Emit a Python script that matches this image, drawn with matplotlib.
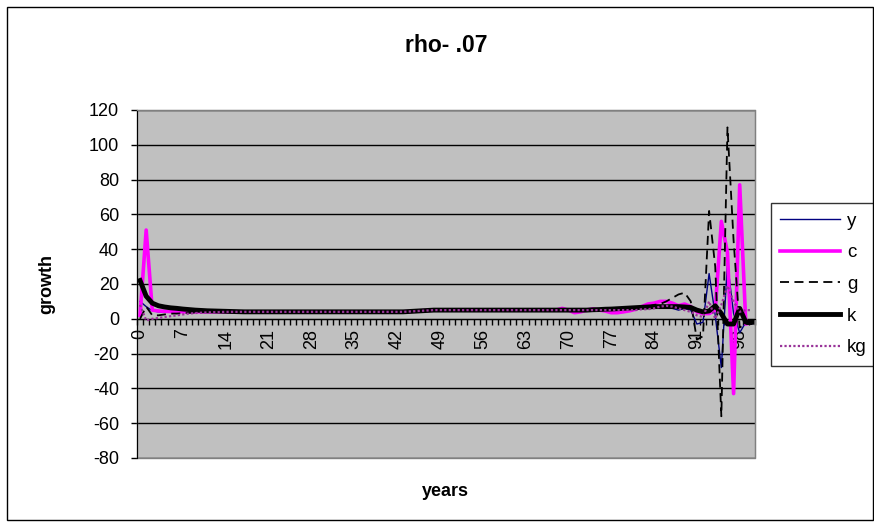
import matplotlib
matplotlib.use("Agg")
import matplotlib.pyplot as plt
from matplotlib.patches import Rectangle
from matplotlib.ticker import FixedLocator

plt.rcParams['font.family'] = ['Liberation Sans', 'DejaVu Sans']
plt.rcParams['axes.unicode_minus'] = False

years = list(range(101))

y_vals = [10, 7, 4.6, 4, 3.8, 3.8, 3.9, 4, 4, 4,
          4, 4, 4, 4, 4, 4, 4, 4, 4, 4,
          4, 4, 4, 4, 4, 4, 4, 4, 4, 4,
          4, 4, 4, 4, 4, 4, 4, 4, 4, 4,
          4, 4, 4, 4, 4.2, 4.4, 4.6, 4.8, 5, 5,
          5, 5, 5, 5, 5, 5, 5, 5, 5, 5,
          5, 5, 5, 5, 5, 5, 5, 5, 5, 5.5,
          5, 4.5, 5, 5, 5.2, 5.3, 5.4, 5.5, 5.5, 5.5,
          5.5, 5.5, 6, 6, 6, 6.5, 7, 6, 5, 6,
          5, -3, -2, 26, 2, -28, 32, 3, -8, -2, -3]

c_vals = [2, 51, 5, 4.5, 4.3, 4.2, 4.1, 4, 4, 4,
          4, 4, 4, 4, 4, 4, 4, 4, 4, 4,
          4, 4, 4, 4, 4, 4, 4, 4, 4, 4,
          4, 4, 4, 4, 4, 4, 4, 4, 4, 4,
          4, 4, 4, 4, 4.2, 4.4, 4.6, 4.8, 5, 5,
          5, 5, 5, 5, 5, 5, 5, 5, 5, 5,
          5, 5, 5, 5, 5, 5, 5, 5, 5, 6,
          5, 3.5, 4, 5, 5.7, 5, 4.5, 3.5, 3.5, 4,
          4.6, 5.5, 7, 8.5, 9, 10, 10, 9, 7.5, 8.5,
          7, 4, 3, 3, 5, 56, 38, -43, 77, -3, -2]

g_vals = [0, 7, 2, 2, 2.5, 3, 3, 3.2, 3.4, 3.6,
          3.7, 3.8, 3.9, 4, 4, 4, 4, 4, 4, 4,
          4, 4, 4, 4, 4, 4, 4, 4, 4, 4,
          4, 4, 4, 4, 4, 4, 4, 4, 4, 4,
          4, 4, 4, 4, 4.2, 4.4, 4.6, 4.8, 5, 5,
          5, 5, 5, 5, 5, 5, 5, 5, 5, 5,
          5, 5, 5, 5, 5, 5, 5, 5, 5, 5,
          5, 5, 5, 5, 5, 5, 5.2, 5.5, 5.8, 5.9,
          6, 6, 6.5, 7, 8, 8.5, 10, 12, 14, 15,
          10, -12, -10, 62, 30, -56, 110, 45, -5, -3, -3]

k_vals = [22, 13, 9, 7.5, 6.8, 6.3, 6, 5.6, 5.3, 5,
          4.8, 4.6, 4.5, 4.4, 4.3, 4.2, 4.1, 4, 4, 4,
          4, 4, 4, 4, 4, 4, 4, 4, 4, 4,
          4, 4, 4, 4, 4, 4, 4, 4, 4, 4,
          4, 4, 4, 4, 4.2, 4.4, 4.6, 4.8, 5, 5,
          5, 5, 5, 5, 5, 5, 5, 5, 5, 5,
          5, 5, 5, 5, 5, 5, 5, 5, 5, 5,
          5, 5, 5, 5, 5.2, 5.3, 5.5, 5.6, 5.8, 6,
          6.2, 6.4, 6.6, 6.8, 7, 7, 7, 7, 7, 6.8,
          6.5, 5, 4, 4.5, 7.5, 3, -3, -3, 6, -2, -2]

kg_vals = [8, -1, 0, 0.5, 1, 1.5, 2, 2.5, 3, 3.3,
           3.5, 3.7, 3.8, 3.9, 4, 4, 4, 4, 4, 4,
           4, 4, 4, 4, 4, 4, 4, 4, 4, 4,
           4, 4, 4, 4, 4, 4, 4, 4, 4, 4,
           4, 4, 4, 4, 4.2, 4.4, 4.6, 4.8, 5, 5,
           5, 5, 5, 5, 5, 5, 5, 5, 5, 5,
           5, 5, 5, 5, 5, 5, 5, 5, 5, 5,
           5, 5, 5, 5, 5, 5, 5, 5, 5, 5,
           5, 5, 5.5, 5.5, 6, 7, 7.5, 7, 6, 5,
           4, 2, 1, 10, 0, 8, 19, 10, 4, 5, 5]

series_names = ['y', 'c', 'g', 'k', 'kg']
x_tick_labels = [str(v) for v in range(0, 101, 7)]
y_ticks = [-80, -60, -40, -20, 0, 20, 40, 60, 80, 100, 120]

W, H = 874, 522
fig = plt.figure(figsize=(W / 100, H / 100), dpi=100)
fig.patch.set_facecolor('white')

# chart border
fig.patches.append(Rectangle((7 / W, 1 - 520 / H), (873 - 7) / W, (520 - 7) / H,
                             transform=fig.transFigure, fill=False,
                             edgecolor='black', linewidth=1.0, zorder=0))

ax = fig.add_axes([137 / W, 1 - 458 / H, 618 / W, 348 / H])
ax.set_facecolor('#C0C0C0')

ax.plot(years, y_vals, color='#000080', linewidth=1.0, label=series_names[0], zorder=3)
ax.plot(years, c_vals, color='#FF00FF', linewidth=2.6, label=series_names[1], zorder=4)
ax.plot(years, g_vals, color='black', linewidth=1.3, linestyle=(0, (5, 3)),
        label=series_names[2], zorder=5)
ax.plot(years, k_vals, color='black', linewidth=3.5, label=series_names[3], zorder=6)
ax.plot(years, kg_vals, color='#993399', linewidth=1.6, linestyle=(0, (1, 1)),
        label=series_names[4], zorder=7)

ax.set_xlim(-0.5, 100.5)
ax.set_ylim(-80, 120)
ax.set_yticks(y_ticks)
ax.yaxis.grid(True, color='black', linewidth=1.0)
ax.set_axisbelow(True)

for s in ['top', 'right']:
    ax.spines[s].set_color('#808080')
ax.spines['left'].set_color('black')
ax.spines['bottom'].set_position(('data', 0))
ax.spines['bottom'].set_color('black')
ax.add_patch(Rectangle((0, 0), 1, 1, transform=ax.transAxes, fill=False,
                       edgecolor='#808080', linewidth=1.0, zorder=1, clip_on=False))

ax.xaxis.set_major_locator(FixedLocator(list(range(0, 101, 7))))
ax.set_xticklabels(x_tick_labels, rotation=90, fontsize=13)
ax.xaxis.set_minor_locator(FixedLocator([v - 0.5 for v in range(102)]))
ax.tick_params(axis='x', which='major', length=0, pad=7)
ax.tick_params(axis='x', which='minor', length=4, width=1, direction='out', color='black')
ax.tick_params(axis='y', which='major', length=4, width=1, direction='out', pad=9, labelsize=13)

ax.set_title('rho- .07', fontsize=16.5, fontweight='bold', pad=42)
ax.set_ylabel('growth', fontsize=13, fontweight='bold', labelpad=24)
fig.text(445 / W, 1 - 492 / H, 'years', fontsize=13, fontweight='bold',
         ha='center', va='center')

leg = ax.legend(loc='upper left', bbox_to_anchor=(771 / W, 1 - 203 / H),
                bbox_transform=fig.transFigure, borderaxespad=0, fontsize=13.5,
                frameon=True, fancybox=False, edgecolor='black',
                handlelength=3.2, labelspacing=0.78, handletextpad=0.35,
                borderpad=0.5)
leg.get_frame().set_linewidth(1.0)

fig.savefig('out.png', dpi=100)
